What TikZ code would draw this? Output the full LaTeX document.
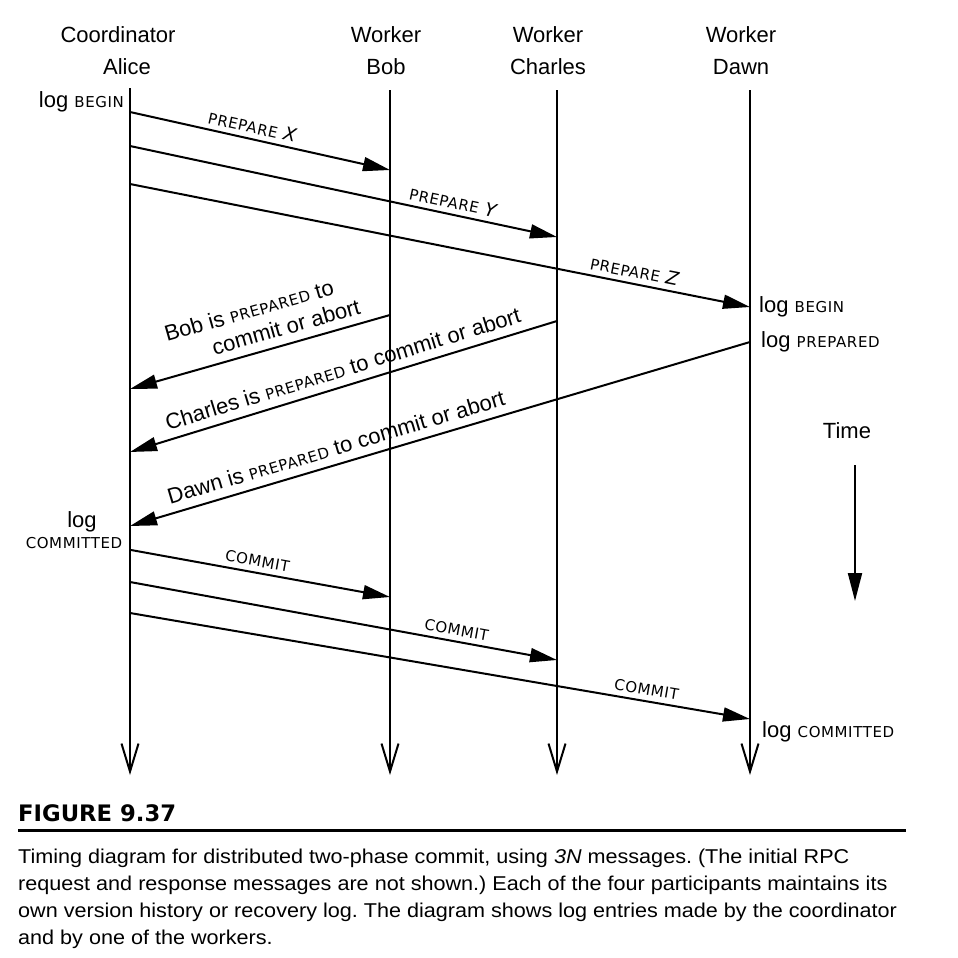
\documentclass[tikz,border=0pt]{standalone}
\usepackage{fontspec}
\setmainfont{Liberation Sans}
\newfontfamily\scfont[LetterSpace=4]{DejaVu Sans}
\newfontfamily\figfont{DejaVu Sans}
\newfontfamily\capfont[FakeStretch=1.08]{Liberation Sans}
\usetikzlibrary{arrows.meta}
\frenchspacing
\newcommand\smcap[1]{{\scfont\fontsize{15}{16}\selectfont #1}}
\newcommand\smit[1]{{\scfont\fontsize{18.5}{16}\selectfont\itshape #1}}
\begin{document}
\begin{tikzpicture}[x=1pt,y=-1pt,
  every node/.style={inner sep=0pt, font=\fontsize{22}{25}\selectfont},
  life/.style={line width=2pt, -{Straight Barb[length=28pt,width=17pt]}},
  msg/.style={line width=2pt, -{Triangle[length=27pt,width=14pt]}},
  lbl/.style={sloped, above=5pt},
  loglbl/.style={anchor=west},
  timearrow/.style={line width=2pt, -{Triangle[length=28pt,width=14pt]}}
]
\useasboundingbox (0,0) rectangle (958,958);
\fill[white] (0,0) rectangle (958,958);

% headers
\node (hA1) at (118,35) {Coordinator};
\node (hA2) at (127,67) {Alice};
\node (hB1) at (386,35) {Worker};
\node (hB2) at (386,67) {Bob};
\node (hC1) at (548,35) {Worker};
\node (hC2) at (548,67) {Charles};
\node (hD1) at (741,35) {Worker};
\node (hD2) at (741,67) {Dawn};

% lifelines
\coordinate (aT) at (130,88);  \coordinate (aB) at (130,775);
\coordinate (bT) at (390,90);  \coordinate (bB) at (390,775);
\coordinate (cT) at (557,90);  \coordinate (cB) at (557,775);
\coordinate (dT) at (750,90);  \coordinate (dB) at (750,775);
\draw[life] (aT) -- (aB);
\draw[life] (bT) -- (bB);
\draw[life] (cT) -- (cB);
\draw[life] (dT) -- (dB);

% message end points
\coordinate (a1) at (130,112); \coordinate (b1) at (390,170);
\coordinate (a2) at (130,146); \coordinate (c2) at (557,237);
\coordinate (a3) at (130,184); \coordinate (d3) at (750,307);
\coordinate (b4) at (390,315); \coordinate (a4) at (130,389);
\coordinate (c5) at (557,321); \coordinate (a5) at (130,452);
\coordinate (d6) at (750,342); \coordinate (a6) at (130,526);
\coordinate (a7) at (131,550); \coordinate (b7) at (390,597);
\coordinate (a8) at (130,582); \coordinate (c8) at (557,660);
\coordinate (a9) at (130,613); \coordinate (d9) at (750,719);

% prepare
\draw[msg] (a1) -- node[lbl, pos=0.46] (lx) {\smcap{PREPARE} \smit{X}} (b1);
\draw[msg] (a2) -- node[lbl, pos=0.75] (ly) {\smcap{PREPARE} \smit{Y}} (c2);
\draw[msg] (a3) -- node[lbl, pos=0.81] (lz) {\smcap{PREPARE} \smit{Z}} (d3);

% prepared replies
\draw[msg] (b4) -- node[lbl, pos=0.46, align=left, above=3pt] (lb) {Bob is \smcap{PREPARED} to\\[1pt] \hspace*{42pt}commit or abort} (a4);
\draw[msg] (c5) -- node[lbl, pos=0.49, above=3pt] (lc) {Charles is \smcap{PREPARED} to commit or abort} (a5);
\draw[msg] (d6) -- node[lbl, pos=0.66, above=3pt] (ld) {Dawn is \smcap{PREPARED} to commit or abort} (a6);

% commits
\draw[msg] (a7) -- node[lbl, pos=0.48] (lc1) {\smcap{COMMIT}} (b7);
\draw[msg] (a8) -- node[lbl, pos=0.76] (lc2) {\smcap{COMMIT}} (c8);
\draw[msg] (a9) -- node[lbl, pos=0.83] (lc3) {\smcap{COMMIT}} (d9);

% log labels
\node[anchor=east] (logA1) at (124,102) {log \smcap{BEGIN}};
\node (logA2) at (82,522) {log};
\node (logA3) at (74,543) {\smcap{COMMITTED}};
\node[loglbl] (logD1) at (759,307) {log \smcap{BEGIN}};
\node[loglbl] (logD2) at (761,342) {log \smcap{PREPARED}};
\node[loglbl] (logD3) at (762,732) {log \smcap{COMMITTED}};

% time
\node (time) at (847,431) {Time};
\coordinate (t1) at (855,465); \coordinate (t2) at (855,601);
\draw[timearrow] (t1) -- (t2);

% caption
\node[anchor=west, font=\figfont\bfseries\fontsize{22.7}{24}\selectfont] (fig) at (18,813) {FIGURE 9.37};
\coordinate (r1) at (18,830); \coordinate (r2) at (906,830);
\draw[line width=3pt] (r1) -- (r2);
\node[anchor=north west, align=left, font=\capfont\fontsize{20}{27}\selectfont] (cap) at (18,849)
 {Timing diagram for distributed two-phase commit, using \textit{3N} messages. (The initial RPC\\
  request and response messages are not shown.) Each of the four participants maintains its\\
  own version history or recovery log. The diagram shows log entries made by the coordinator\\
  and by one of the workers.};
\end{tikzpicture}
\end{document}
